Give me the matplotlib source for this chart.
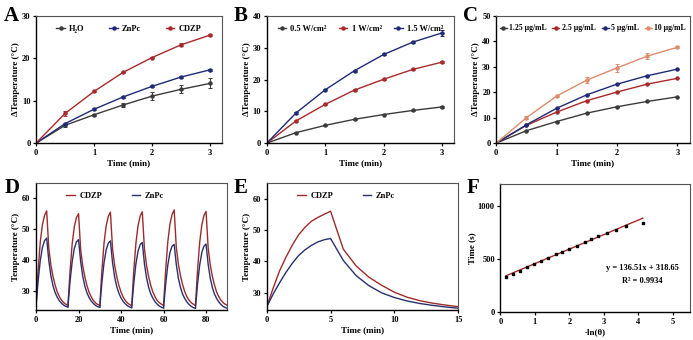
import numpy as np
import matplotlib
matplotlib.use("Agg")
import matplotlib.pyplot as plt

plt.rcParams['font.family'] = ['Liberation Serif', 'DejaVu Serif']
plt.rcParams['font.weight'] = 'bold'
plt.rcParams['axes.labelweight'] = 'bold'

# ---- panel A: different samples ----
t_min = [0, 0.5, 1, 1.5, 2, 2.5, 3]
a_h2o = [0, 4.2, 6.7, 9.0, 11.1, 12.7, 14.1]
a_h2o_err = [0, 0.3, 0.2, 0.5, 0.9, 0.9, 1.2]
a_znpc = [0, 4.6, 8.0, 10.9, 13.4, 15.6, 17.3]
a_znpc_err = [0, 0.2, 0.2, 0.2, 0.2, 0.2, 0.2]
a_cdzp = [0, 7.0, 12.2, 16.7, 20.2, 23.2, 25.5]
a_cdzp_err = [0, 0.5, 0.2, 0.2, 0.2, 0.4, 0.2]

# ---- panel B: laser power ----
b_p05 = [0, 3.3, 5.6, 7.5, 9.0, 10.3, 11.4]
b_p05_err = [0, 0.2, 0.2, 0.2, 0.2, 0.2, 0.3]
b_p10 = [0, 7.0, 12.2, 16.7, 20.1, 23.2, 25.5]
b_p10_err = [0, 0.4, 0.2, 0.2, 0.2, 0.3, 0.3]
b_p15 = [0, 9.5, 16.8, 22.8, 27.9, 31.8, 34.7]
b_p15_err = [0, 0.2, 0.2, 0.3, 0.3, 0.4, 0.9]

# ---- panel C: concentration ----
c_125 = [0, 4.9, 8.5, 11.8, 14.3, 16.4, 18.2]
c_25 = [0, 7.0, 12.2, 16.7, 20.1, 23.2, 25.5]
c_5 = [0, 7.2, 13.7, 19.0, 23.2, 26.5, 29.1]
c_10 = [0, 10.0, 18.5, 24.8, 29.6, 34.2, 37.7]
c_10_err = [0, 0.6, 0.4, 1.3, 1.6, 1.1, 0.4]

# ---- panel D: six heating/cooling cycles, values every minute ----
cycle_min = list(range(16))
d_cdzp = [
    [25.3, 37.0, 46.0, 51.5, 54.5, 56.0, 44.0, 38.5, 34.8, 32.0, 29.8, 28.3, 27.2, 26.4, 25.9, 25.5],
    [25.5, 36.5, 45.3, 50.8, 53.8, 55.1, 43.5, 38.2, 34.6, 31.8, 29.7, 28.2, 27.1, 26.3, 25.8, 25.5],
    [25.5, 36.8, 45.6, 51.2, 54.2, 55.6, 43.8, 38.4, 34.7, 31.9, 29.8, 28.2, 27.1, 26.3, 25.8, 25.4],
    [25.4, 36.8, 45.6, 51.2, 54.3, 55.7, 43.8, 38.4, 34.7, 31.9, 29.8, 28.3, 27.1, 26.4, 25.9, 25.5],
    [25.5, 37.0, 46.0, 51.7, 54.8, 56.3, 44.2, 38.7, 35.0, 32.1, 29.9, 28.3, 27.2, 26.4, 25.9, 25.5],
    [25.5, 36.9, 45.8, 51.4, 54.5, 55.8, 44.0, 38.5, 34.8, 32.0, 29.8, 28.3, 27.2, 26.4, 25.9, 25.5],
]
d_znpc = [
    [25.3, 33.5, 40.0, 44.2, 46.4, 47.2, 40.0, 35.0, 31.8, 29.6, 28.1, 27.0, 26.2, 25.6, 25.2, 25.0],
    [25.0, 33.2, 39.6, 43.8, 46.0, 46.7, 39.6, 34.8, 31.6, 29.5, 28.0, 26.9, 26.1, 25.5, 25.1, 24.9],
    [24.9, 33.0, 39.3, 43.4, 45.6, 46.3, 39.3, 34.6, 31.5, 29.4, 27.9, 26.8, 26.0, 25.4, 25.0, 24.8],
    [24.8, 32.7, 38.9, 43.0, 45.1, 45.8, 39.0, 34.4, 31.3, 29.2, 27.8, 26.7, 25.9, 25.3, 24.9, 24.7],
    [24.7, 32.4, 38.5, 42.5, 44.6, 45.2, 38.7, 34.2, 31.2, 29.1, 27.7, 26.6, 25.8, 25.2, 24.8, 24.6],
    [24.6, 32.4, 38.5, 42.5, 44.6, 45.3, 38.7, 34.2, 31.2, 29.1, 27.7, 26.6, 25.8, 25.2, 24.8, 24.6],
]

# ---- panel E: one cycle ----
e_time = [0, 0.5, 1, 1.5, 2, 2.5, 3, 3.5, 4, 4.5, 5, 6, 7, 8, 9, 10, 11, 12, 13, 14, 15]
e_cdzp = [25.6, 31.5, 37.0, 41.3, 45.2, 48.5, 50.9, 52.8, 54.0, 55.0, 56.0,
          43.9, 38.6, 35.0, 32.4, 30.2, 28.6, 27.5, 26.7, 26.1, 25.6]
e_znpc = [25.6, 29.6, 33.2, 36.5, 39.4, 41.9, 43.7, 45.1, 46.2, 46.9, 47.3,
          40.3, 35.5, 32.3, 30.0, 28.5, 27.4, 26.6, 26.0, 25.5, 25.1]

# ---- panel F: cooling linear fit ----
f_x = [0.16, 0.38, 0.58, 0.77, 0.98, 1.18, 1.39, 1.61, 1.79, 2.0, 2.23, 2.45,
       2.64, 2.84, 3.09, 3.34, 3.65, 4.13]
f_y = [328, 362, 390, 422, 447, 478, 509, 541, 569, 594, 625, 656, 684, 716,
       744, 775, 806, 834]
f_slope = 136.51
f_intercept = 318.65

GRAY = '#3b3b3b'
NAVY = '#1f2a78'
RED = '#a8292b'
SALMON = '#dc8b6c'
D_RED = '#9c2b2c'
D_BLUE = '#28306e'

fig = plt.figure(figsize=(6.93, 3.40), dpi=100)


def style(ax):
    for s in ['left', 'bottom']:
        ax.spines[s].set_linewidth(1.0)
        ax.spines[s].set_color('black')
    for s in ['top', 'right']:
        ax.spines[s].set_linewidth(0.8)
        ax.spines[s].set_color('#555555')
    ax.tick_params(direction='out', length=2.5, width=0.9, labelsize=6, pad=1.5)
    for lab in ax.get_xticklabels() + ax.get_yticklabels():
        lab.set_fontweight('bold')


def curve(ax, y, err, color, label):
    ax.errorbar(t_min, y, yerr=err, color=color, lw=0, elinewidth=0.7,
                capsize=1.5, capthick=0.7, fmt='none')
    ax.plot(t_min, y, color=color, lw=1.0, marker='o', ms=2.2, label=label)


def leg(ax, ncol, spacing, hl=1.0, pad=0.5):
    ax.legend(loc='upper center', ncol=ncol, frameon=False,
              handlelength=hl, handletextpad=pad, columnspacing=spacing,
              bbox_to_anchor=(0.5, 0.99), prop={'weight': 'bold', 'size': 6})


# A
axA = fig.add_axes([0.052, 0.579, 0.268, 0.374])
curve(axA, a_h2o, a_h2o_err, GRAY, 'H₂O')
curve(axA, a_znpc, a_znpc_err, NAVY, 'ZnPc')
curve(axA, a_cdzp, a_cdzp_err, RED, 'CDZP')
axA.set_xlim(0, 3.2)
axA.set_ylim(0, 30)
axA.set_xticks([0, 1, 2, 3])
axA.set_yticks([0, 10, 20, 30])
axA.set_xlabel('Time (min)', fontsize=6.5, labelpad=1.5)
axA.set_ylabel('ΔTemperature (°C)', fontsize=6.5, labelpad=1.5)
leg(axA, 3, 3.0)
style(axA)

# B
axB = fig.add_axes([0.385, 0.579, 0.270, 0.374])
curve(axB, b_p05, b_p05_err, GRAY, '0.5 W/cm²')
curve(axB, b_p10, b_p10_err, RED, '1 W/cm²')
curve(axB, b_p15, b_p15_err, NAVY, '1.5 W/cm²')
axB.set_xlim(0, 3.2)
axB.set_ylim(0, 40)
axB.set_xticks([0, 1, 2, 3])
axB.set_yticks([0, 10, 20, 30, 40])
axB.set_xlabel('Time (min)', fontsize=6.5, labelpad=1.5)
axB.set_ylabel('ΔTemperature (°C)', fontsize=6.5, labelpad=1.5)
leg(axB, 3, 1.5)
style(axB)

# C
axC = fig.add_axes([0.716, 0.579, 0.279, 0.374])
curve(axC, c_125, [0] * 7, GRAY, '1.25 μg/mL')
curve(axC, c_25, [0] * 7, RED, '2.5 μg/mL')
curve(axC, c_5, [0] * 7, NAVY, '5 μg/mL')
curve(axC, c_10, c_10_err, SALMON, '10 μg/mL')
axC.set_xlim(0, 3.2)
axC.set_ylim(0, 50)
axC.set_xticks([0, 1, 2, 3])
axC.set_yticks([0, 10, 20, 30, 40, 50])
axC.set_xlabel('Time (min)', fontsize=6.5, labelpad=1.5)
axC.set_ylabel('ΔTemperature (°C)', fontsize=6.5, labelpad=1.5)
axC.legend(loc='upper center', ncol=4, frameon=False, handlelength=0.9,
           handletextpad=0.35, columnspacing=0.7, bbox_to_anchor=(0.5, 0.99),
           prop={'weight': 'bold', 'size': 5.6})
style(axC)

# D
axD = fig.add_axes([0.052, 0.088, 0.276, 0.374])
for k in range(len(d_cdzp)):
    tt = [15 * k + m for m in cycle_min]
    axD.plot(tt, d_cdzp[k], color=D_RED, lw=1.0, label='CDZP' if k == 0 else None)
    axD.plot(tt, d_znpc[k], color=D_BLUE, lw=1.0, label='ZnPc' if k == 0 else None)
axD.set_xlim(0, 90)
axD.set_ylim(24, 65)
axD.set_xticks([0, 20, 40, 60, 80])
axD.set_yticks([30, 40, 50, 60])
axD.set_xlabel('Time (min)', fontsize=6.5, labelpad=1.5)
axD.set_ylabel('Temperature (°C)', fontsize=6.5, labelpad=1.5)
axD.legend(loc='upper left', ncol=2, frameon=False, handlelength=1.0,
           handletextpad=0.6, columnspacing=3.5, bbox_to_anchor=(0.12, 0.99),
           prop={'weight': 'bold', 'size': 6})
style(axD)

# E
axE = fig.add_axes([0.385, 0.088, 0.276, 0.374])
axE.plot(e_time, e_cdzp, color=D_RED, lw=1.0, label='CDZP')
axE.plot(e_time, e_znpc, color=D_BLUE, lw=1.0, label='ZnPc')
axE.set_xlim(0, 15)
axE.set_ylim(24.5, 65)
axE.set_xticks([0, 5, 10, 15])
axE.set_yticks([30, 40, 50, 60])
axE.set_xlabel('Time (min)', fontsize=6.5, labelpad=1.5)
axE.set_ylabel('Temperature (°C)', fontsize=6.5, labelpad=1.5)
axE.legend(loc='upper left', ncol=2, frameon=False, handlelength=1.0,
           handletextpad=0.6, columnspacing=3.5, bbox_to_anchor=(0.12, 0.99),
           prop={'weight': 'bold', 'size': 6})
style(axE)

# F
axF = fig.add_axes([0.722, 0.082, 0.274, 0.376])
axF.scatter(f_x, f_y, s=4, color='black', marker='s', zorder=3)
fx = np.array([f_x[0], f_x[-1]])
axF.plot(fx, f_slope * fx + f_intercept, color=RED, lw=1.0)
axF.set_xlim(0, 5.5)
axF.set_ylim(0, 1200)
axF.set_xticks([0, 1, 2, 3, 4, 5])
axF.set_yticks([0, 500, 1000])
axF.set_xlabel('-ln(θ)', fontsize=6.5, labelpad=1.5)
axF.set_ylabel('Time (s)', fontsize=6.5, labelpad=1.5)
axF.text(4.1, 412, f'y = {f_slope}x + {f_intercept}', ha='center', va='center',
         fontsize=6, fontweight='bold')
axF.text(4.1, 290, 'R² = 0.9934', ha='center', va='center',
         fontsize=6, fontweight='bold')
style(axF)

# panel letters
for x, y, s in [(0.006, 0.938, 'A'), (0.337, 0.938, 'B'), (0.668, 0.938, 'C'),
                (0.006, 0.432, 'D'), (0.337, 0.432, 'E'), (0.674, 0.432, 'F')]:
    fig.text(x, y, s, fontsize=15, fontweight='bold', va='baseline')

fig.savefig('out.png', dpi=100)
